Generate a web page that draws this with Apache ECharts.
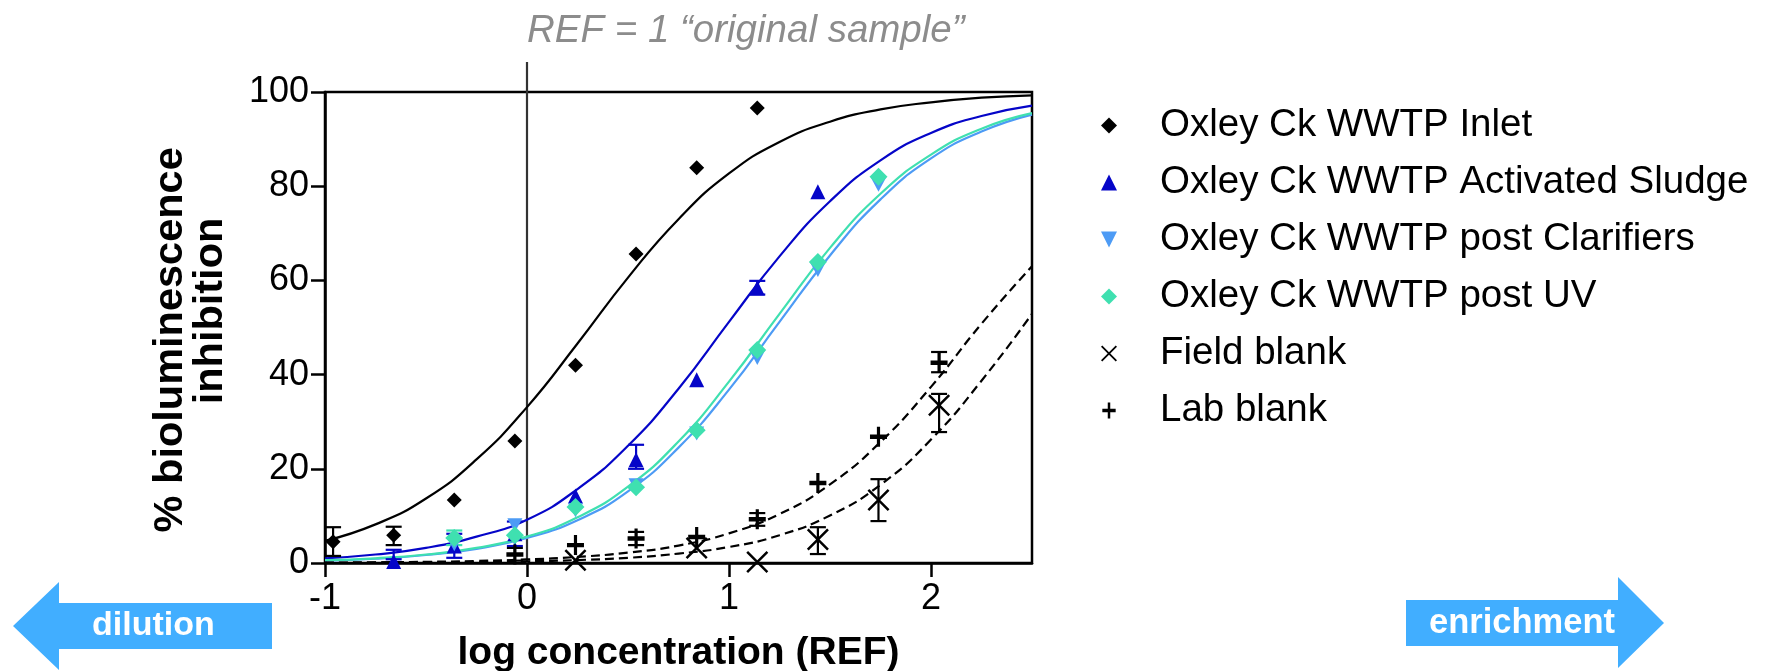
<!DOCTYPE html>
<html>
<head>
<meta charset="utf-8">
<script src="https://cdn.jsdelivr.net/npm/echarts@6/dist/echarts.min.js"></script>
<style>
  html, body { margin: 0; padding: 0; background: #fff; }
  #chart { width: 1766px; height: 671px; }
</style>
</head>
<body>
<div id="chart"></div>
<script>
// Tested concentrations (log REF) and mean % inhibition per sample
const doseLog = [-0.96, -0.66, -0.36, -0.06, 0.24, 0.54, 0.84, 1.14, 1.44, 1.74, 2.04];
const inletVals     = [4.5, 5.9, 13.4, 25.9, 42.0, 65.6, 83.9, 96.6, null, null, null];
const sludgeVals    = [null, 0.3, 3.6, 6.2, 14.2, 21.9, 38.9, 58.4, 78.8, null, null];
const clarifierVals = [null, null, 4.0, 8.0, 11.2, 16.5, 27.5, 43.5, 62.2, 80.3, null];
const uvVals        = [null, null, 5.3, 5.9, 11.9, 16.1, 28.2, 45.2, 63.9, 82.0, null];
const fieldVals     = [null, null, null, null, 0.6, null, 3.2, 0.2, 5.0, 13.4, 33.5];
const labVals       = [null, null, null, 1.8, 3.8, 5.2, 5.5, 9.3, 17.0, 26.8, 42.5];

// Error bars: [log concentration, lower, upper]
const inletErr  = [[-0.96, 1.5, 7.6], [-0.66, 3.8, 7.7]];
const sludgeErr = [[-0.66, 0.8, 2.8], [-0.36, 1.1, 6.2], [-0.06, 3.6, 8.8], [0.54, 20.0, 25.1], [1.14, 57.0, 59.9]];
const uvErr     = [[-0.36, 3.8, 6.9]];
const fieldErr  = [[1.44, 1.9, 7.6], [1.74, 8.9, 17.8], [2.04, 27.8, 35.9]];
const labErr    = [[-0.06, 0.5, 3.2], [0.54, 3.8, 6.6], [1.14, 7.9, 10.6], [2.04, 40.5, 44.8]];

// Concentration-response curves sampled along the x axis
const curveX        = [-1, -0.75, -0.5, -0.25, 0, 0.25, 0.5, 0.75, 1, 1.25, 1.5, 1.75, 2, 2.25, 2.5];
const inletCurve    = [4.7, 8.2, 13.7, 22.0, 33.1, 46.6, 60.6, 73.0, 82.7, 89.4, 93.7, 96.3, 97.8, 98.8, 99.3];
const sludgeCurve   = [1.0, 1.8, 3.2, 5.6, 9.2, 15.7, 24.9, 37.0, 51.2, 65.1, 76.8, 85.5, 91.3, 94.9, 97.1];
const clarifierCurve= [0.5, 0.9, 1.7, 3.0, 5.3, 9.1, 15.2, 24.5, 36.8, 51.2, 65.3, 77.2, 85.9, 91.6, 95.2];
const uvCurve       = [0.6, 1.0, 1.8, 3.2, 5.6, 9.7, 16.2, 25.8, 38.5, 52.9, 66.9, 78.4, 86.7, 92.2, 95.5];
const fieldCurve    = [0.04, 0.06, 0.11, 0.2, 0.35, 0.63, 1.1, 2.0, 3.4, 5.9, 10.1, 16.6, 26.2, 38.7, 52.9];
const labCurve      = [0.08, 0.15, 0.25, 0.43, 0.75, 1.3, 2.2, 3.7, 6.3, 10.4, 16.7, 25.7, 37.4, 50.8, 63.0];

const xTicks = [-1, 0, 1, 2];

const FONT = "'Liberation Sans', Arial, sans-serif";
const C_INLET = '#000000';
const C_SLUDGE = '#0505C8';
const C_CLAR = '#4D9BF5';
const C_UV = '#3FE0B0';
const C_BLANK = '#000000';

const SYM_DIAMOND = 'path://M50,0 L100,50 L50,100 L0,50 Z';
const SYM_UP = 'path://M50,0 L100,100 L0,100 Z';
const SYM_DOWN = 'path://M0,0 L100,0 L50,100 Z';
const SYM_PLUS = 'path://M61,0 H89 V70 H150 V110 H89 V180 H61 V110 H0 V70 H61 Z';
const SYM_X = 'path://M0,8 L8,0 L50,42 L92,0 L100,8 L58,50 L100,92 L92,100 L50,58 L8,100 L0,92 L42,50 Z';

function pairs(vals) {
  const out = [];
  vals.forEach((v, i) => { if (v !== null) out.push([doseLog[i], v]); });
  return out;
}
function curve(vals) {
  return curveX.map((x, i) => [x, vals[i]]);
}

function errSeries(name, data, color) {
  return {
    name: name,
    type: 'custom',
    z: 3,
    silent: true,
    data: data,
    encode: { x: 0, y: [1, 2] },
    renderItem: function (params, api) {
      const x = api.value(0);
      const lo = api.coord([x, api.value(1)]);
      const hi = api.coord([x, api.value(2)]);
      const w = 8;
      const st = { stroke: color, lineWidth: 2.2 };
      return {
        type: 'group',
        children: [
          { type: 'line', shape: { x1: lo[0], y1: lo[1], x2: hi[0], y2: hi[1] }, style: st },
          { type: 'line', shape: { x1: hi[0] - w, y1: hi[1], x2: hi[0] + w, y2: hi[1] }, style: st },
          { type: 'line', shape: { x1: lo[0] - w, y1: lo[1], x2: lo[0] + w, y2: lo[1] }, style: st }
        ]
      };
    }
  };
}

function fitSeries(name, vals, color, dashed) {
  return {
    name: name,
    type: 'line',
    z: 2,
    silent: true,
    data: curve(vals),
    showSymbol: false,
    smooth: 0.5,
    lineStyle: { color: color, width: 2.2, type: dashed ? [9, 5] : 'solid' }
  };
}

function pointSeries(name, vals, color, symbol, size) {
  return {
    name: name,
    type: 'scatter',
    z: 4,
    data: pairs(vals),
    symbol: symbol,
    symbolSize: size,
    itemStyle: { color: color, opacity: 1 }
  };
}

const chart = echarts.init(document.getElementById('chart'), null, { renderer: 'canvas' });

chart.setOption({
  animation: false,
  backgroundColor: '#ffffff',
  textStyle: { fontFamily: FONT },
  title: {
    text: 'REF = 1 \u201Coriginal sample\u201D',
    left: 522,
    top: 7,
    textStyle: { fontFamily: FONT, fontStyle: 'italic', fontWeight: 'normal', fontSize: 38.5, color: '#8C8C8C' }
  },
  grid: {
    left: 325, top: 92, width: 707, height: 471,
    outerBoundsMode: 'none',
    containLabel: false,
    show: true, borderColor: '#000', borderWidth: 2.5, backgroundColor: 'transparent'
  },
  legend: {
    orient: 'vertical',
    left: 1096,
    top: 99,
    itemWidth: 92,
    itemHeight: 16,
    itemGap: 14,
    selectedMode: false,
    textStyle: { fontFamily: FONT, fontSize: 38.5, color: '#000', lineHeight: 43 },
    data: [
      'Oxley Ck WWTP Inlet',
      'Oxley Ck WWTP Activated Sludge',
      'Oxley Ck WWTP post Clarifiers',
      'Oxley Ck WWTP post UV',
      'Field blank',
      'Lab blank'
    ]
  },
  xAxis: {
    type: 'value',
    min: -1, max: 2.5, interval: 1,
    name: 'log concentration (REF)',
    nameLocation: 'middle',
    nameGap: 71,
    nameTextStyle: { fontFamily: FONT, fontWeight: 'bold', fontSize: 39, color: '#000' },
    axisLine: { onZero: false, lineStyle: { color: '#000', width: 2.5 } },
    axisTick: { show: true, length: 14, customValues: xTicks, lineStyle: { color: '#000', width: 2.5 } },
    axisLabel: { customValues: xTicks, margin: 18, fontSize: 36, color: '#000', fontFamily: FONT },
    splitLine: { show: false }
  },
  yAxis: {
    type: 'value',
    min: 0, max: 100, interval: 20,
    name: '% bioluminescence     \ninhibition',
    nameLocation: 'middle',
    nameRotate: 90,
    nameGap: 94,
    nameTextStyle: { fontFamily: FONT, fontWeight: 'bold', fontSize: 41.5, color: '#000', lineHeight: 40, padding: [0, 0, 0, 33] },
    axisLine: { show: true, onZero: false, lineStyle: { color: '#000', width: 2.5 } },
    axisTick: { show: true, length: 14, lineStyle: { color: '#000', width: 2.5 } },
    axisLabel: { margin: 16, fontSize: 36, color: '#000', fontFamily: FONT },
    splitLine: { show: false }
  },
  graphic: [
    {
      type: 'polygon',
      shape: { points: [[13, 626], [59, 582], [59, 603], [272, 603], [272, 649], [59, 649], [59, 670]] },
      style: { fill: '#41AEFF' }
    },
    {
      type: 'text', left: 92, top: 609,
      style: { text: 'dilution', fill: '#fff', font: 'bold 34px ' + FONT }
    },
    {
      type: 'polygon',
      shape: { points: [[1406, 600], [1618, 600], [1618, 577], [1664, 623], [1618, 668], [1618, 646], [1406, 646]] },
      style: { fill: '#41AEFF' }
    },
    {
      type: 'text', left: 1429, top: 606,
      style: { text: 'enrichment', fill: '#fff', font: 'bold 34.5px ' + FONT }
    }
  ],
  series: [
    {
      name: 'REF line',
      type: 'custom',
      z: 1,
      silent: true,
      data: [[0]],
      encode: { x: 0 },
      renderItem: function (params, api) {
        const top = api.coord([0, 100]);
        const bot = api.coord([0, 0]);
        return {
          type: 'line',
          shape: { x1: top[0], y1: top[1] - 30, x2: bot[0], y2: bot[1] },
          style: { stroke: '#333333', lineWidth: 2.2 }
        };
      }
    },
    fitSeries('Inlet fit', inletCurve, C_INLET, false),
    fitSeries('Activated Sludge fit', sludgeCurve, C_SLUDGE, false),
    fitSeries('post Clarifiers fit', clarifierCurve, C_CLAR, false),
    fitSeries('post UV fit', uvCurve, C_UV, false),
    fitSeries('Field blank fit', fieldCurve, C_BLANK, true),
    fitSeries('Lab blank fit', labCurve, C_BLANK, true),
    errSeries('Inlet error', inletErr, C_INLET),
    errSeries('Activated Sludge error', sludgeErr, C_SLUDGE),
    errSeries('post UV error', uvErr, C_UV),
    errSeries('Field blank error', fieldErr, C_BLANK),
    errSeries('Lab blank error', labErr, C_BLANK),
    pointSeries('Oxley Ck WWTP Inlet', inletVals, C_INLET, SYM_DIAMOND, 15),
    pointSeries('Oxley Ck WWTP Activated Sludge', sludgeVals, C_SLUDGE, SYM_UP, 15),
    pointSeries('Oxley Ck WWTP post Clarifiers', clarifierVals, C_CLAR, SYM_DOWN, [15, 14]),
    pointSeries('Oxley Ck WWTP post UV', uvVals, C_UV, SYM_DIAMOND, 18),
    pointSeries('Field blank', fieldVals, C_BLANK, SYM_X, 22),
    pointSeries('Lab blank', labVals, C_BLANK, SYM_PLUS, [17, 20])
  ]
});
</script>
</body>
</html>
